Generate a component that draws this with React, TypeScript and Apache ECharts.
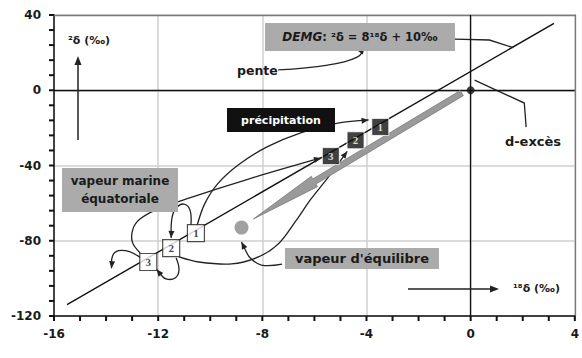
import React, { useEffect, useRef } from "react";
import * as echarts from "echarts";

// ---- axes ----
const X_MIN = -16, X_MAX = 4, X_STEP = 4;
const Y_MIN = -120, Y_MAX = 40, Y_STEP = 40;
const X_MINOR_STEP = 1;   // minor tick every 1 ‰
const Y_MINOR_STEP = 8;   // minor tick every 8 ‰

// ---- meteoric water line (read endpoints) ----
const GMWL_X = [-15.5, 3.2];
const GMWL_Y = [-114, 35.6];

// ---- precipitation boxes (black) ----
const PRECIP_LABELS = ["1", "2", "3"];
const PRECIP_X = [-3.47, -4.42, -5.37];
const PRECIP_Y = [-19.5, -26.6, -35.0];

// ---- vapour boxes (white) ----
const VAPOUR_LABELS = ["1", "2", "3"];
const VAPOUR_X = [-10.55, -11.5, -12.38];
const VAPOUR_Y = [-75.9, -83.9, -91.3];

// ---- single points ----
const SMOW_POINT = [0, 0];
const EQ_VAPOUR_POINT = [-8.8, -73];

// ---- grey arrow (start, head base, tip) ----
const GREY_ARROW = [[-0.34, -1.5], [-6.0, -48.5], [-8.34, -68.4]];

// ---- curves (data coordinates) ----
const CURVE_V1_P1 = [[-10.5, -71.6], [-10.2, -60], [-9.7, -49.5], [-8.9, -39.5], [-7.8, -30], [-6.5, -22.5], [-5.1, -17.5], [-3.92, -15.8]];
const CURVE_V3_P3 = [[-12.69, -86.5], [-12.99, -80.7], [-12.97, -73.8], [-12.7, -68.5], [-12.1, -63.7], [-10.82, -57.3], [-8.53, -47.2], [-5.75, -36.0]];
const CURVE_V2_P2 = [[-11.2, -88.6], [-10.44, -91.3], [-9.18, -92.3], [-8.15, -88.6], [-7.39, -81.7], [-6.74, -70.0], [-6.13, -57.8], [-5.49, -46.6], [-4.74, -32.5]];
const LOOP_V1_V2 = [[-10.74, -71.6], [-10.78, -63.6], [-11.01, -60.5], [-11.31, -62.6], [-11.47, -67.9], [-11.5, -78.5]];
const LOOP_V2_V3 = [[-11.31, -89.2], [-11.2, -95.5], [-11.35, -99.8], [-11.7, -100.3], [-11.92, -97.7], [-12.06, -95.2]];
const LOOP_V3_OUT = [[-12.69, -88.9], [-13.1, -85.8], [-13.52, -85.3], [-13.75, -88.0], [-13.79, -94.6]];
const EQ_LEADER = [[-7.24, -92.4], [-8.04, -92.9], [-8.46, -89.2], [-8.65, -84.9], [-8.8, -80.7]];
const PENTE_LEADER = [[-7.39, 10.8], [-5.49, 13.4], [-4.34, 17.7], [-4.08, 23.0]];
const DEMG_LEADER = [[-0.61, 27.2], [0.72, 26.7], [1.64, 22.6]];
const DEXCES_LEADER = [[0.15, 5.4], [2.06, -6.8], [2.13, -19.6]];

const CURVES = [
  { pts: CURVE_V1_P1, arrow: true, smooth: 0.35 },
  { pts: CURVE_V3_P3, arrow: true, smooth: 0.35 },
  { pts: CURVE_V2_P2, arrow: true, smooth: 0.35 },
  { pts: LOOP_V1_V2, arrow: true, smooth: 0.4 },
  { pts: LOOP_V2_V3, arrow: true, smooth: 0.4 },
  { pts: LOOP_V3_OUT, arrow: true, smooth: 0.4 },
  { pts: EQ_LEADER, arrow: true, smooth: 0.4 },
  { pts: PENTE_LEADER, arrow: true, smooth: 0.4 },
  { pts: DEMG_LEADER, arrow: false, smooth: 0 },
  { pts: DEXCES_LEADER, arrow: false, smooth: 0 },
];

const FONT = "'DejaVu Sans', 'Liberation Sans', Arial, sans-serif";
const INK = "#1a1a1a";
const BOX_GREY = "#ababab";
const FRAME_GREY = "#7a7a7a";

// tick marks along the bottom and left axes (axis structure, not data)
type Tick = { axis: "x" | "y"; v: number; major: boolean };
const TICKS: Tick[] = [];
for (let v = X_MIN; v <= X_MAX + 1e-9; v += X_MINOR_STEP) TICKS.push({ axis: "x", v, major: (v - X_MIN) % X_STEP === 0 });
for (let v = Y_MIN; v <= Y_MAX + 1e-9; v += Y_MINOR_STEP) TICKS.push({ axis: "y", v, major: (v - Y_MIN) % Y_STEP === 0 });

function arrowHead(p1: number[], p2: number[], len = 7, half = 3) {
  const dx = p2[0] - p1[0], dy = p2[1] - p1[1];
  const l = Math.hypot(dx, dy) || 1;
  const ux = dx / l, uy = dy / l;
  const bx = p2[0] - ux * len, by = p2[1] - uy * len;
  return [[p2[0], p2[1]], [bx - uy * half, by + ux * half], [bx + uy * half, by - ux * half]];
}

function txt(text: string, x: number, y: number, size: number, fill = INK, align = "center") {
  return {
    type: "text",
    x, y,
    z: 100,
    style: {
      text, fill,
      font: `bold ${size}px ${FONT}`,
      textAlign: align, textVerticalAlign: "middle",
      align, verticalAlign: "middle",
    },
  };
}

export default function App() {
  const ref = useRef<HTMLDivElement>(null);
  useEffect(() => {
    document.body.style.margin = "0";
    const chart = echarts.init(ref.current!, null, { renderer: "svg" });
    const axisLabel = { color: INK, fontWeight: "bold", fontSize: 12, fontFamily: FONT };
    const frameAxis = {
      type: "value",
      axisLine: { show: true, onZero: false, lineStyle: { color: FRAME_GREY, width: 1.3 } },
      axisTick: { show: false },
      minorTick: { show: false },
      axisLabel: { show: false },
      splitLine: { show: false },
    };
    const option: any = {
      animation: false,
      grid: { left: 54, right: 3, top: 15, bottom: 42 },
      xAxis: [
        {
          type: "value", min: X_MIN, max: X_MAX, interval: X_STEP, position: "bottom",
          axisLine: { show: true, onZero: false, lineStyle: { color: "#111", width: 1.5 } },
          axisTick: { show: false },
          minorTick: { show: false },
          splitLine: { show: true, lineStyle: { color: "#cfcfcf", width: 1.5 } },
          axisLabel: { ...axisLabel, margin: 12 },
        },
        { ...frameAxis, min: X_MIN, max: X_MAX, interval: X_STEP, position: "top" },
      ],
      yAxis: [
        {
          type: "value", min: Y_MIN, max: Y_MAX, interval: Y_STEP, position: "left",
          axisLine: { show: true, onZero: false, lineStyle: { color: "#111", width: 1.5 } },
          axisTick: { show: false },
          minorTick: { show: false },
          splitLine: { show: true, lineStyle: { color: "#cfcfcf", width: 1.5 } },
          axisLabel: { ...axisLabel, margin: 13 },
        },
        { ...frameAxis, min: Y_MIN, max: Y_MAX, interval: Y_STEP, position: "right" },
      ],
      series: [
        {
          type: "line",
          data: GMWL_X.map((x, i) => [x, GMWL_Y[i]]),
          symbol: "none",
          lineStyle: { color: "#111", width: 1.4 },
          z: 3,
          markLine: {
            silent: true,
            symbol: ["none", "none"],
            label: { show: false },
            lineStyle: { color: "#111", width: 1.3, type: "solid" },
            data: [{ xAxis: 0 }, { yAxis: 0 }],
          },
        },
        {
          // axis tick marks
          type: "custom",
          coordinateSystem: "cartesian2d",
          clip: false,
          silent: true,
          z: 10,
          data: TICKS.map((t) => (t.axis === "x" ? [t.v, Y_MIN] : [X_MIN, t.v])),
          renderItem: (params: any, api: any) => {
            const t = TICKS[params.dataIndex];
            const p = api.coord(t.axis === "x" ? [t.v, Y_MIN] : [X_MIN, t.v]);
            const len = 5;
            const shape = t.axis === "x"
              ? { x1: p[0], y1: p[1], x2: p[0], y2: p[1] + len }
              : { x1: p[0], y1: p[1], x2: p[0] - len, y2: p[1] };
            return { type: "line", shape, style: { stroke: "#111", lineWidth: 2 } };
          },
        },
        {
          type: "custom",
          coordinateSystem: "cartesian2d",
          clip: false,
          z: 4,
          data: CURVES.map((c) => c.pts[0]),
          renderItem: (params: any, api: any) => {
            const c = CURVES[params.dataIndex];
            const pts = c.pts.map((p) => api.coord(p));
            const n = pts.length;
            const children: any[] = [
              {
                type: "polyline",
                shape: { points: pts, smooth: c.smooth },
                style: { stroke: "#222", lineWidth: 1.3, fill: "none" },
              },
            ];
            if (c.arrow) {
              children.push({
                type: "polygon",
                shape: { points: arrowHead(pts[n - 2], pts[n - 1]) },
                style: { fill: "#222" },
              });
            }
            return { type: "group", children };
          },
        },
        {
          type: "custom",
          coordinateSystem: "cartesian2d",
          clip: false,
          z: 5,
          data: [GREY_ARROW[0]],
          renderItem: (params: any, api: any) => {
            const [S, B, T] = GREY_ARROW.map((p) => api.coord(p));
            const dx = T[0] - S[0], dy = T[1] - S[1];
            const l = Math.hypot(dx, dy);
            const nx = -dy / l, ny = dx / l;
            const w = 3, hw = 6;
            const poly = [
              [S[0] + nx * w, S[1] + ny * w],
              [B[0] + nx * w, B[1] + ny * w],
              [B[0] + nx * hw, B[1] + ny * hw],
              [T[0], T[1]],
              [B[0] - nx * hw, B[1] - ny * hw],
              [B[0] - nx * w, B[1] - ny * w],
              [S[0] - nx * w, S[1] - ny * w],
            ];
            return {
              type: "polygon",
              shape: { points: poly },
              style: { fill: "#9a9a9a", stroke: "#7a7a7a", lineWidth: 0.8 },
            };
          },
        },
        {
          type: "scatter",
          data: [EQ_VAPOUR_POINT],
          symbol: "circle",
          symbolSize: 14,
          itemStyle: { color: "#8a8a8a" },
          z: 6,
        },
        {
          type: "scatter",
          data: [SMOW_POINT],
          symbol: "circle",
          symbolSize: 8,
          itemStyle: { color: "#111" },
          z: 6,
        },
        {
          type: "scatter",
          data: PRECIP_X.map((x, i) => ({ value: [x, PRECIP_Y[i]], name: PRECIP_LABELS[i] })),
          symbol: "rect",
          symbolSize: [17, 17],
          itemStyle: { color: "#111", borderColor: "#fff", borderWidth: 1 },
          label: {
            show: true, position: "inside", formatter: "{b}",
            color: "#fff", fontWeight: "bold", fontSize: 11, fontFamily: "'Liberation Serif', serif",
          },
          z: 7,
        },
        {
          type: "scatter",
          data: VAPOUR_X.map((x, i) => ({ value: [x, VAPOUR_Y[i]], name: VAPOUR_LABELS[i] })),
          symbol: "rect",
          symbolSize: [17, 17],
          itemStyle: { color: "#fff", borderColor: "#222", borderWidth: 1.2 },
          label: {
            show: true, position: "inside", formatter: "{b}",
            color: "#111", fontWeight: "bold", fontSize: 11, fontFamily: "'Liberation Serif', serif",
          },
          z: 7,
        },
      ],
      graphic: [
        { type: "rect", z: 90, shape: { x: 265, y: 23, width: 190, height: 28 }, style: { fill: BOX_GREY } },
        {
          type: "text", x: 360, y: 37, z: 100,
          style: {
            text: "{i|DEMG}{n|: ²δ = 8¹⁸δ + 10‰}",
            textAlign: "center", textVerticalAlign: "middle", align: "center", verticalAlign: "middle",
            rich: {
              i: { fontFamily: FONT, fontSize: 12, fontWeight: "bold", fontStyle: "italic", fill: INK, color: INK },
              n: { fontFamily: FONT, fontSize: 11.5, fontWeight: "bold", fill: INK, color: INK },
            },
          },
        },
        { type: "rect", z: 90, shape: { x: 227, y: 108, width: 108, height: 24 }, style: { fill: "#111" } },
        txt("précipitation", 281, 120, 11, "#fff"),
        { type: "rect", z: 90, shape: { x: 62, y: 168, width: 116, height: 44 }, style: { fill: BOX_GREY } },
        txt("vapeur marine", 120, 181, 12),
        txt("équatoriale", 120, 199, 12),
        { type: "rect", z: 90, shape: { x: 285, y: 248, width: 154, height: 21 }, style: { fill: BOX_GREY } },
        txt("vapeur d'équilibre", 362, 258.5, 13),
        txt("pente", 237, 70, 12.5, INK, "left"),
        txt("d-excès", 533, 141, 13),
        txt("²δ (‰)", 68, 40, 11, INK, "left"),
        txt("¹⁸δ (‰)", 513, 288, 11, INK, "left"),
        { type: "line", z: 95, shape: { x1: 78, y1: 140, x2: 78, y2: 63 }, style: { stroke: "#222", lineWidth: 1.5 } },
        { type: "polygon", z: 95, shape: { points: [[78, 56], [74.5, 65], [81.5, 65]] }, style: { fill: "#222" } },
        { type: "line", z: 95, shape: { x1: 408, y1: 289, x2: 492, y2: 289 }, style: { stroke: "#222", lineWidth: 1.5 } },
        { type: "polygon", z: 95, shape: { points: [[499, 289], [490, 285.5], [490, 292.5]] }, style: { fill: "#222" } },
      ],
    };
    chart.setOption(option);
    return () => chart.dispose();
  }, []);
  return <div ref={ref} style={{ width: 582, height: 358 }} />;
}
